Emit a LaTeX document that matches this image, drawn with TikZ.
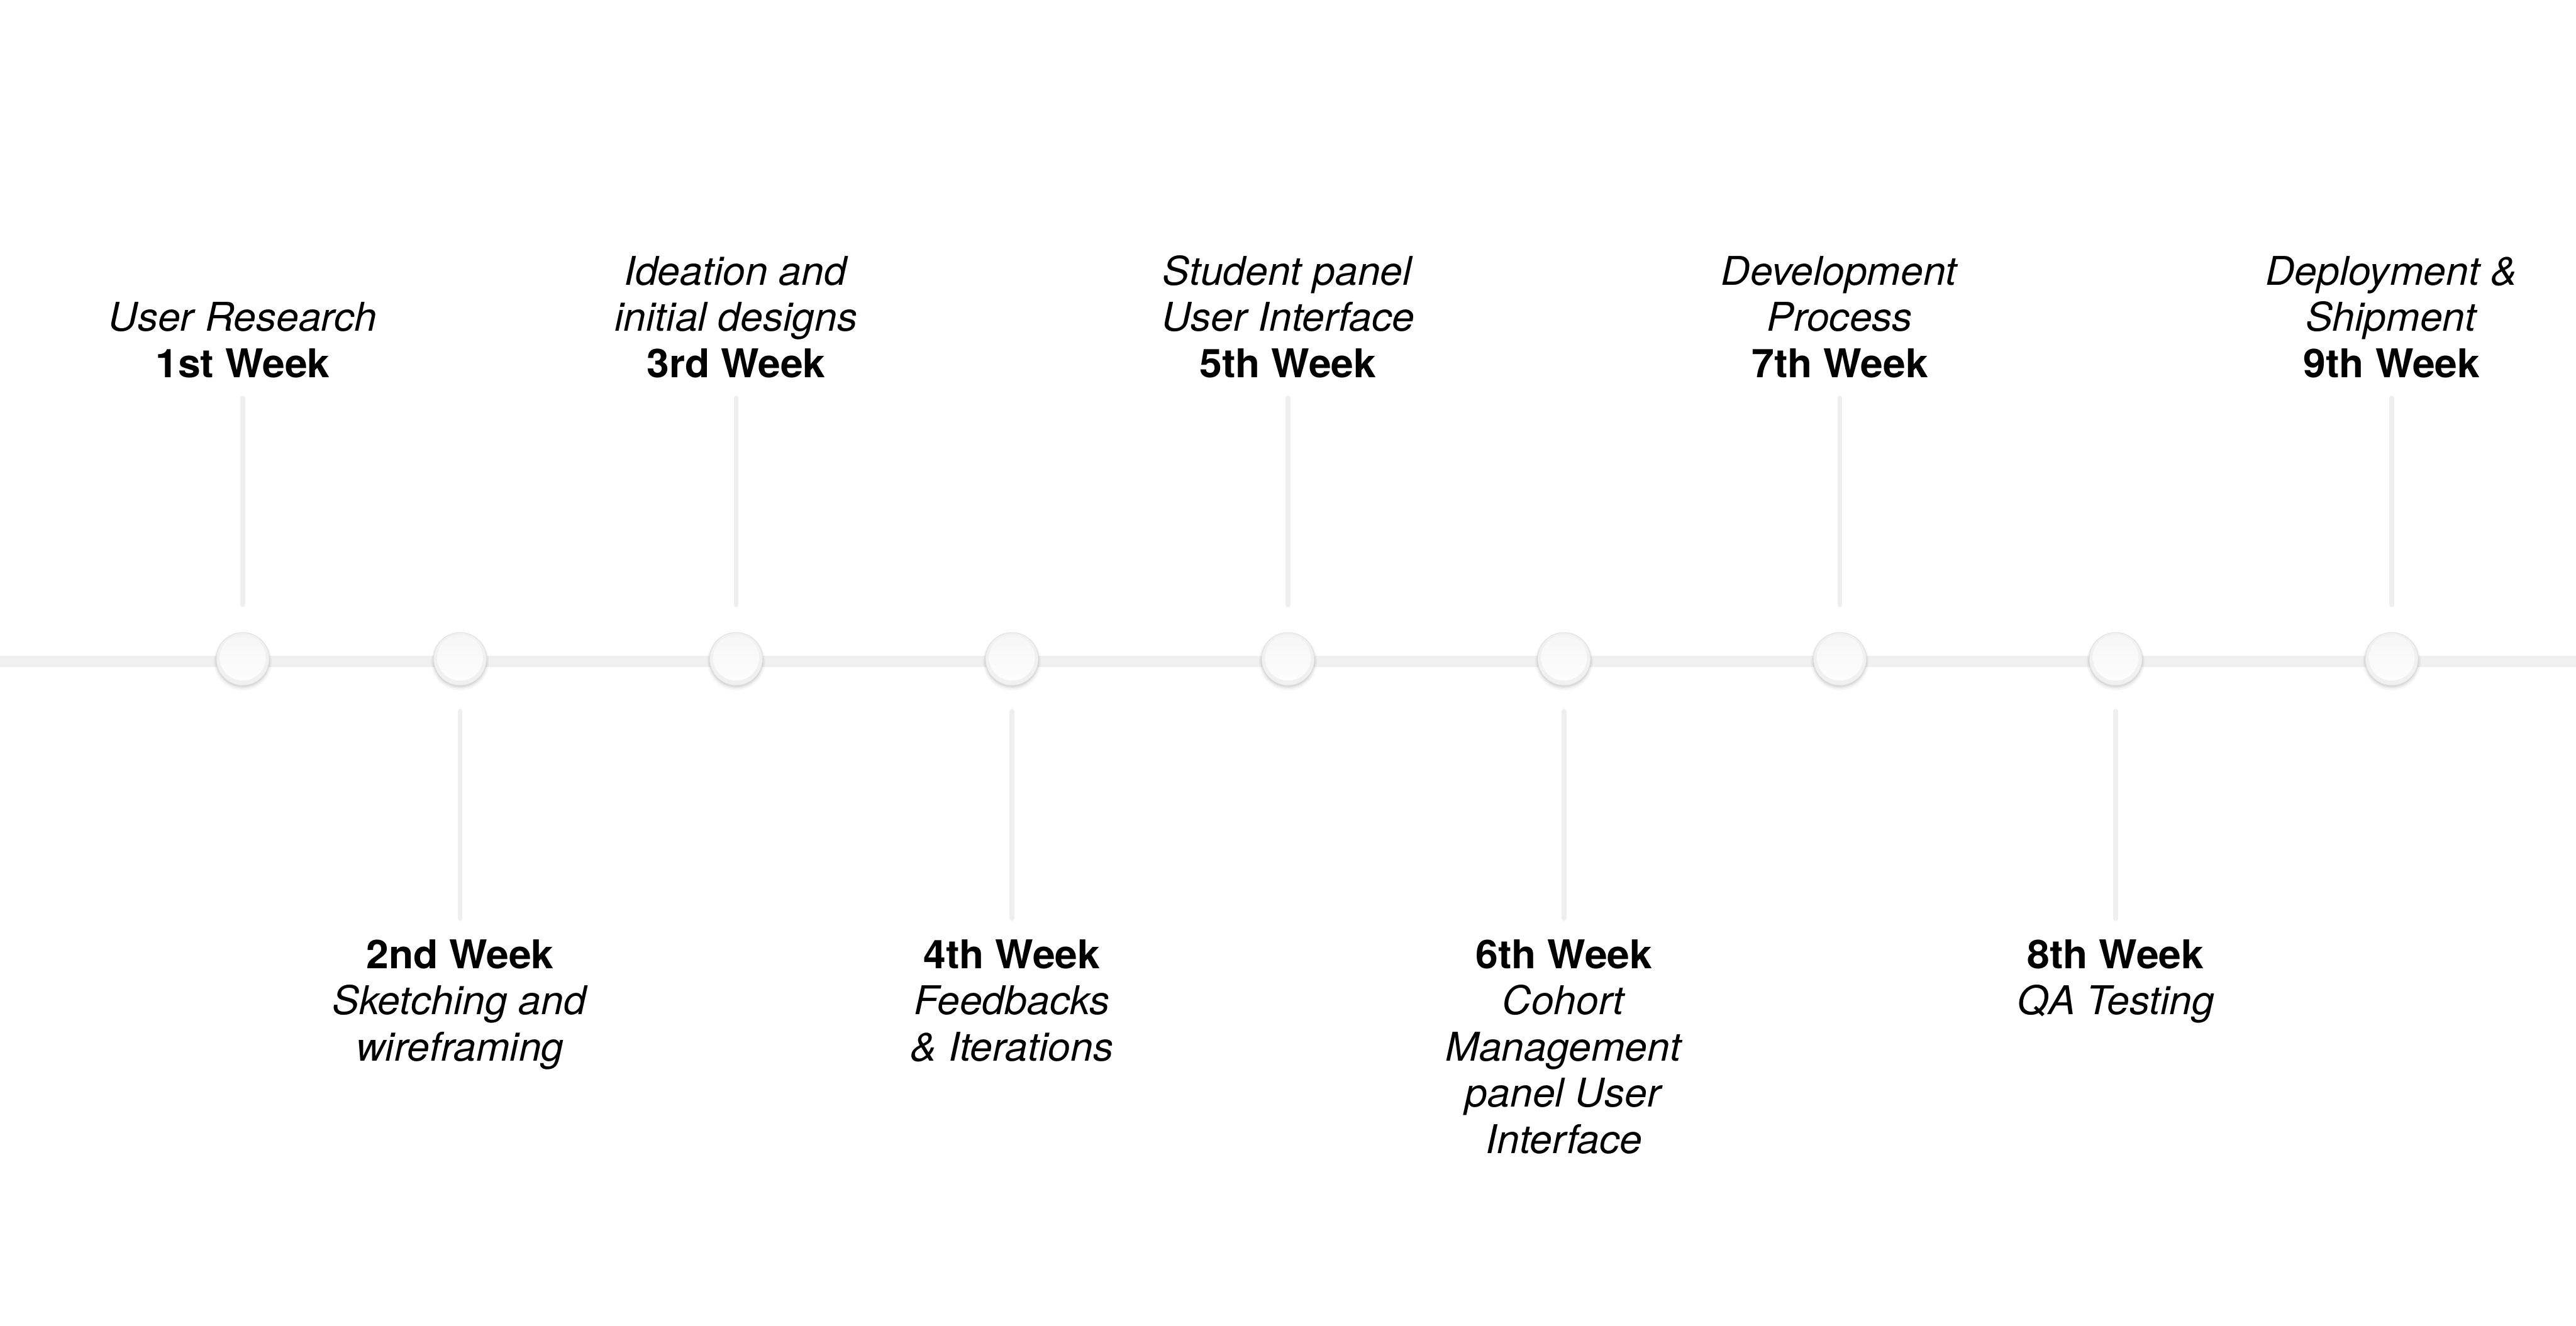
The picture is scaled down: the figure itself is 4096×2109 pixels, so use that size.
\documentclass[tikz,border=0pt]{standalone}
\usepackage{fontspec}
\setmainfont{TeX Gyre Heros}[FakeStretch=1.02]
\definecolor{linegray}{HTML}{F0F0F0}
\definecolor{tickgray}{HTML}{EFEFEF}
\definecolor{ringgray}{HTML}{E2E2E2}
\definecolor{ringfill}{HTML}{F1F1F1}
\definecolor{innertop}{HTML}{F6F6F6}
\definecolor{innerbot}{HTML}{FDFDFD}
\begin{document}
\begin{tikzpicture}[x=1pt,y=-1pt,
  lbl/.style={font=\fontsize{63}{73.5}\selectfont, align=center, anchor=base, inner sep=0pt, text=black},
  tick/.style={draw=tickgray, line width=7.5pt, line cap=round},
  mainline/.style={draw=linegray, line width=18pt},
  dot/.style={circle, minimum size=84pt, inner sep=0pt, draw=ringgray, line width=1pt, fill=ringfill}]
\useasboundingbox (0,0) rectangle (4096,2109);
\fill[white] (0,0) rectangle (4096,2109);
% main timeline
\coordinate (L) at (0,1052);
\coordinate (R) at (4096,1052);
\draw[mainline] (L) -- (R);
% ticks
\foreach \i/\x in {1/386,3/1170.5,5/2048,7/2925.5,9/3803}{
  \coordinate (ta\i) at (\x,633);
  \coordinate (tb\i) at (\x,962);
  \draw[tick] (ta\i) -- (tb\i);
}
\foreach \i/\x in {2/731.5,4/1609,6/2487,8/3364}{
  \coordinate (ta\i) at (\x,1131);
  \coordinate (tb\i) at (\x,1461);
  \draw[tick] (ta\i) -- (tb\i);
}
% milestone circles
\foreach \i/\x in {1/386,2/731.5,3/1170.5,4/1609,5/2048,6/2487,7/2925.5,8/3364,9/3803}{
  \fill[black, opacity=0.035] (\x,1052) circle[radius=46pt];
  \fill[black, opacity=0.05] (\x,1051) circle[radius=44pt];
  \fill[black, opacity=0.07] (\x,1050) circle[radius=42.5pt];
  \node[dot] (c\i) at (\x,1048) {};
  \shade[top color=innertop, bottom color=innerbot] (\x,1046) circle[radius=36.5pt];
}
% labels above (anchor = baseline of last line)
\node[lbl] (l1) at (386,600) {\textit{User Research}\\\textbf{1st Week}};
\node[lbl] (l3) at (1170.5,600) {\textit{Ideation and}\\\textit{initial designs}\\\textbf{3rd Week}};
\node[lbl] (l5) at (2048,600) {\textit{Student panel}\\\textit{User Interface}\\\textbf{5th Week}};
\node[lbl] (l7) at (2925.5,600) {\textit{Development}\\\textit{Process}\\\textbf{7th Week}};
\node[lbl] (l9) at (3803,600) {\textit{Deployment \&}\\\textit{Shipment}\\\textbf{9th Week}};
% labels below (anchor = baseline of last line)
\node[lbl] (l2) at (731.5,1687) {\textbf{2nd Week}\\\textit{Sketching and}\\\textit{wireframing}};
\node[lbl] (l4) at (1609,1687) {\textbf{4th Week}\\\textit{Feedbacks}\\\textit{\& Iterations}};
\node[lbl] (l6) at (2487,1834) {\textbf{6th Week}\\\textit{Cohort}\\\textit{Management}\\\textit{panel User}\\\textit{Interface}};
\node[lbl] (l8) at (3364,1613.5) {\textbf{8th Week}\\\textit{QA Testing}};
\end{tikzpicture}
\end{document}
